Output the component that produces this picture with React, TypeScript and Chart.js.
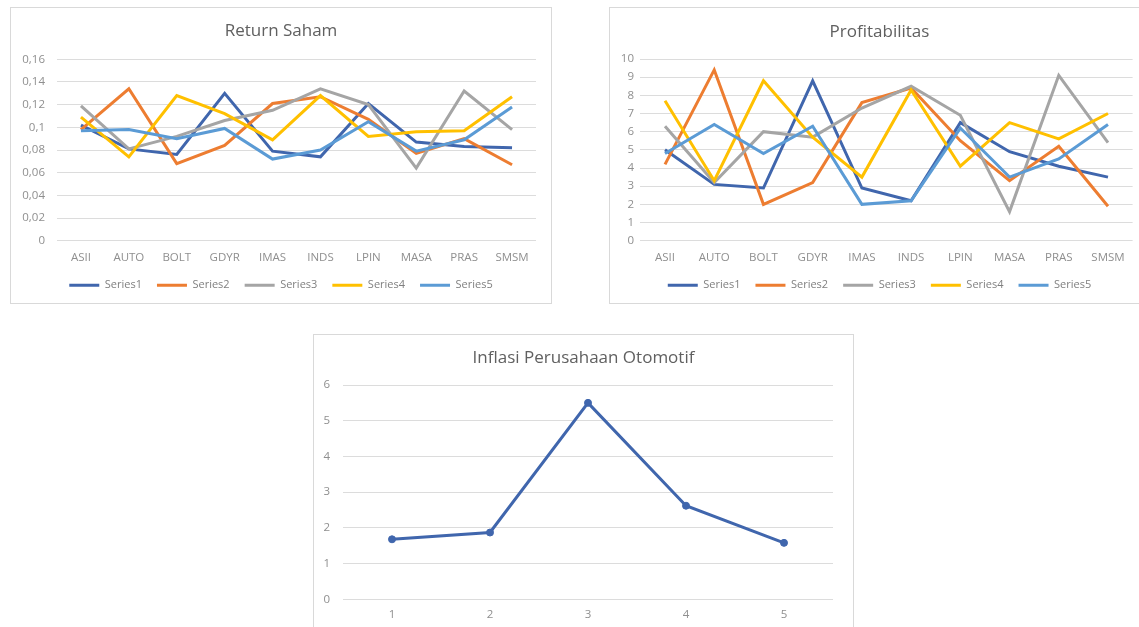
import React, { useEffect, useRef } from "react";
import { Chart, registerables } from "chart.js";

Chart.register(...registerables);

// ---------- data ----------
const companies = ["ASII", "AUTO", "BOLT", "GDYR", "IMAS", "INDS", "LPIN", "MASA", "PRAS", "SMSM"];
const seriesNames = ["Series1", "Series2", "Series3", "Series4", "Series5"];

const return1 = [0.102, 0.081, 0.076, 0.13, 0.079, 0.074, 0.121, 0.087, 0.083, 0.082];
const return2 = [0.098, 0.134, 0.068, 0.084, 0.121, 0.127, 0.107, 0.077, 0.09, 0.067];
const return3 = [0.119, 0.081, 0.092, 0.106, 0.115, 0.134, 0.12, 0.064, 0.132, 0.098];
const return4 = [0.109, 0.074, 0.128, 0.112, 0.089, 0.128, 0.092, 0.096, 0.097, 0.127];
const return5 = [0.097, 0.098, 0.09, 0.099, 0.072, 0.08, 0.105, 0.079, 0.089, 0.118];

const profit1 = [5.0, 3.1, 2.9, 8.8, 2.9, 2.2, 6.5, 4.9, 4.1, 3.5];
const profit2 = [4.2, 9.4, 2.0, 3.2, 7.6, 8.4, 5.5, 3.3, 5.2, 1.9];
const profit3 = [6.3, 3.2, 6.0, 5.7, 7.3, 8.5, 6.9, 1.6, 9.1, 5.4];
const profit4 = [7.7, 3.3, 8.8, 5.7, 3.5, 8.3, 4.1, 6.5, 5.6, 7.0];
const profit5 = [4.8, 6.4, 4.8, 6.3, 2.0, 2.2, 6.2, 3.5, 4.5, 6.4];

const inflasiLabels = ["1", "2", "3", "4", "5"];
const inflasiValues = [1.68, 1.87, 5.5, 2.62, 1.58];

// ---------- styles ----------
const FONT = "'Open Sans', 'DejaVu Sans', sans-serif";
const seriesColors = ["#4066AD", "#ED7D31", "#A5A5A5", "#FFC000", "#5B9BD5"];
const TITLE_COLOR = "#606060";
const TICK_COLOR = "#8f8f8f";
const GRID_COLOR = "#dcdcdc";
const BOX_BORDER = "#d9d9d9";

const fmtComma = (v: number) => String(Math.round(v * 100) / 100).replace(".", ",");

type P = {
  title: string;
  titleTop: number;
  titleBottom: number;
  yMin: number;
  yMax: number;
  yStep: number;
  yFmt: (v: number) => string;
  yWidth: number;
  yPad: number;
  rightWidth: number;
  xHeight: number;
  xPad: number;
  legend: boolean;
  bottomPad: number;
};

function buildOptions(p: P): any {
  return {
    responsive: false,
    animation: false,
    devicePixelRatio: 1,
    layout: { padding: { left: 0, right: 0, top: 0, bottom: p.bottomPad } },
    plugins: {
      title: {
        display: true,
        text: p.title,
        color: TITLE_COLOR,
        font: { family: FONT, size: 17, weight: "normal", lineHeight: 1.2 },
        padding: { top: p.titleTop, bottom: p.titleBottom },
      },
      legend: p.legend
        ? {
            display: true,
            position: "bottom",
            labels: {
              usePointStyle: true,
              pointStyle: "line",
              pointStyleWidth: 30,
              color: "#808080",
              font: { family: FONT, size: 11 },
              padding: 15,
              sort: (a: any, b: any) => a.datasetIndex - b.datasetIndex,
            },
          }
        : { display: false },
      tooltip: { enabled: false },
    },
    scales: {
      x: {
        type: "category",
        offset: true,
        grid: { display: false, drawTicks: false },
        border: { display: false },
        ticks: {
          color: TICK_COLOR,
          font: { family: FONT, size: 11.5 },
          padding: p.xPad,
          maxRotation: 0,
          autoSkip: false,
        },
        afterFit: (s: any) => {
          s.height = p.xHeight;
        },
      },
      y: {
        type: "linear",
        position: "left",
        min: p.yMin,
        max: p.yMax,
        grid: { color: GRID_COLOR, lineWidth: 1, drawTicks: false },
        border: { display: false },
        ticks: {
          stepSize: p.yStep,
          color: TICK_COLOR,
          font: { family: FONT, size: 11.5 },
          padding: p.yPad,
          callback: (v: any) => p.yFmt(Number(v)),
        },
        afterFit: (s: any) => {
          s.width = p.yWidth;
        },
      },
      yRight: {
        type: "linear",
        position: "right",
        display: true,
        grid: { display: false, drawTicks: false },
        border: { display: false },
        ticks: { display: false },
        afterFit: (s: any) => {
          s.width = p.rightWidth;
        },
      },
    },
  };
}

function multiDatasets(values: number[][]) {
  return values.map((vals, i) => ({
    label: seriesNames[i],
    data: vals,
    borderColor: seriesColors[i],
    backgroundColor: seriesColors[i],
    borderWidth: 3,
    pointRadius: 0,
    tension: 0,
    fill: false,
    order: values.length - i,
    yAxisID: "y",
  }));
}

function ChartCanvas({ config, left, top, width, height }: any) {
  const ref = useRef<HTMLCanvasElement>(null);
  useEffect(() => {
    const chart = new Chart(ref.current as HTMLCanvasElement, config);
    return () => chart.destroy();
  }, []);
  return (
    <canvas
      ref={ref}
      width={width}
      height={height}
      style={{ position: "absolute", left, top, width, height }}
    />
  );
}

function Box({ left, top, width, height }: any) {
  return (
    <div
      style={{
        position: "absolute",
        left,
        top,
        width,
        height,
        border: `1px solid ${BOX_BORDER}`,
        boxSizing: "border-box",
        background: "#fff",
      }}
    />
  );
}

export default function App() {
  const returnConfig = {
    type: "line",
    data: {
      labels: companies,
      datasets: multiDatasets([return1, return2, return3, return4, return5]),
    },
    options: buildOptions({
      title: "Return Saham",
      titleTop: 13.8,
      titleBottom: 18.1,
      yMin: 0,
      yMax: 0.16,
      yStep: 0.02,
      yFmt: fmtComma,
      yWidth: 47,
      yPad: 12,
      rightWidth: 16,
      xHeight: 24,
      xPad: 10,
      legend: true,
      bottomPad: 3.3,
    }),
  };

  const profitConfig = {
    type: "line",
    data: {
      labels: companies,
      datasets: multiDatasets([profit1, profit2, profit3, profit4, profit5]),
    },
    options: buildOptions({
      title: "Profitabilitas",
      titleTop: 15.1,
      titleBottom: 16.5,
      yMin: 0,
      yMax: 10,
      yStep: 1,
      yFmt: (v) => String(v),
      yWidth: 31.4,
      yPad: 6.4,
      rightWidth: 17.4,
      xHeight: 24,
      xPad: 10,
      legend: true,
      bottomPad: 3.3,
    }),
  };

  const inflasiConfig = {
    type: "line",
    data: {
      labels: inflasiLabels,
      datasets: [
        {
          label: "Inflasi",
          data: inflasiValues,
          borderColor: "#4066AD",
          backgroundColor: "#4066AD",
          borderWidth: 3,
          pointRadius: 3.5,
          pointBorderWidth: 1,
          pointBackgroundColor: "#4066AD",
          tension: 0,
          fill: false,
          yAxisID: "y",
        },
      ],
    },
    options: buildOptions({
      title: "Inflasi Perusahaan Otomotif",
      titleTop: 13.8,
      titleBottom: 16.8,
      yMin: 0,
      yMax: 6,
      yStep: 1,
      yFmt: (v) => String(v),
      yWidth: 30,
      yPad: 13,
      rightWidth: 21,
      xHeight: 24,
      xPad: 9,
      legend: false,
      bottomPad: 7.7,
    }),
  };

  return (
    <div
      style={{
        position: "absolute",
        left: 0,
        top: 0,
        width: 1139,
        height: 627,
        overflow: "hidden",
        background: "#fff",
      }}
    >
      <Box left={10} top={7} width={542} height={297} />
      <ChartCanvas config={returnConfig} left={10} top={7} width={542} height={297} />

      <Box left={609} top={7} width={541} height={297} />
      <ChartCanvas config={profitConfig} left={609} top={7} width={541} height={297} />

      <Box left={313} top={334} width={541} height={297} />
      <ChartCanvas config={inflasiConfig} left={313} top={334} width={541} height={297} />
    </div>
  );
}
